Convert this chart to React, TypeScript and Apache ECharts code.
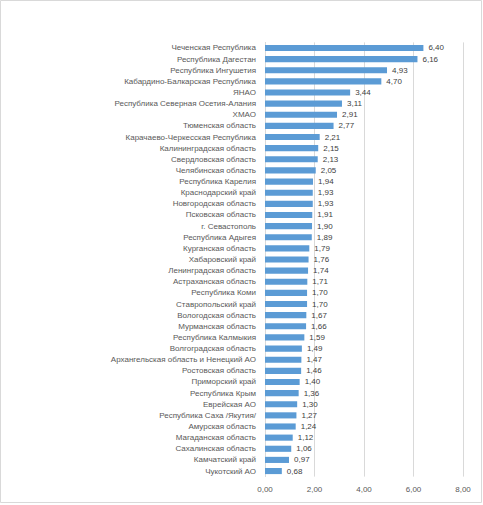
import React, { useEffect, useRef } from "react";
import * as echarts from "echarts";

const categories = [
  "Чеченская Республика",
  "Республика Дагестан",
  "Республика Ингушетия",
  "Кабардино-Балкарская Республика",
  "ЯНАО",
  "Республика Северная Осетия-Алания",
  "ХМАО",
  "Тюменская область",
  "Карачаево-Черкесская Республика",
  "Калининградская область",
  "Свердловская область",
  "Челябинская область",
  "Республика Карелия",
  "Краснодарский край",
  "Новгородская область",
  "Псковская область",
  "г. Севастополь",
  "Республика Адыгея",
  "Курганская область",
  "Хабаровский край",
  "Ленинградская область",
  "Астраханская область",
  "Республика Коми",
  "Ставропольский край",
  "Вологодская область",
  "Мурманская область",
  "Республика Калмыкия",
  "Волгоградская область",
  "Архангельская область и Ненецкий АО",
  "Ростовская область",
  "Приморский край",
  "Республика Крым",
  "Еврейская АО",
  "Республика Саха /Якутия/",
  "Амурская область",
  "Магаданская область",
  "Сахалинская область",
  "Камчатский край",
  "Чукотский АО",
];

const values = [
  6.4, 6.16, 4.93, 4.7, 3.44, 3.11, 2.91, 2.77, 2.21, 2.15, 2.13, 2.05, 1.94,
  1.93, 1.93, 1.91, 1.9, 1.89, 1.79, 1.76, 1.74, 1.71, 1.7, 1.7, 1.67, 1.66,
  1.59, 1.49, 1.47, 1.46, 1.4, 1.36, 1.3, 1.27, 1.24, 1.12, 1.06, 0.97, 0.68,
];

const xMin = 0;
const xMax = 8;
const xInterval = 2;

const fmt = (v: number) => v.toFixed(2).replace(".", ",");

export default function App() {
  const ref = useRef<HTMLDivElement>(null);
  useEffect(() => {
    if (!ref.current) return;
    const chart = echarts.init(ref.current, undefined, { renderer: "svg" });
    const font = "'Liberation Sans', Arial, sans-serif";
    chart.setOption({
      animation: false,
      backgroundColor: "#ffffff",
      textStyle: { fontFamily: font },
      graphic: [
        {
          type: "rect",
          shape: { x: 0.5, y: 0.5, width: 481, height: 502 },
          style: { fill: "none", stroke: "#d9d9d9", lineWidth: 1 },
          silent: true,
        },
      ],
      grid: { left: 265, right: 20, top: 42.4, bottom: 28.4 },
      xAxis: {
        type: "value",
        min: xMin,
        max: xMax,
        interval: xInterval,
        axisLine: { show: false },
        axisTick: { show: false },
        splitLine: { show: true, lineStyle: { color: "#d9d9d9", width: 1 } },
        axisLabel: {
          color: "#595959",
          fontSize: 8,
          fontFamily: font,
          margin: 9,
          formatter: (v: number) => fmt(v),
        },
      },
      yAxis: {
        type: "category",
        inverse: true,
        data: categories,
        axisLine: { show: true, lineStyle: { color: "#d9d9d9", width: 1 } },
        axisTick: { show: false },
        axisLabel: {
          color: "#595959",
          fontSize: 8,
          fontFamily: font,
          margin: 9,
          interval: 0,
        },
      },
      series: [
        {
          type: "bar",
          data: values,
          barCategoryGap: "45%",
          itemStyle: { color: "#5b9bd5" },
          label: {
            show: true,
            position: "right",
            distance: 5,
            color: "#404040",
            fontSize: 8,
            fontFamily: font,
            formatter: (p: any) => fmt(p.value),
          },
        },
      ],
    });
    return () => chart.dispose();
  }, []);
  return (
    <div
      ref={ref}
      style={{ position: "absolute", left: 0, top: 0, width: 483, height: 505 }}
    />
  );
}
